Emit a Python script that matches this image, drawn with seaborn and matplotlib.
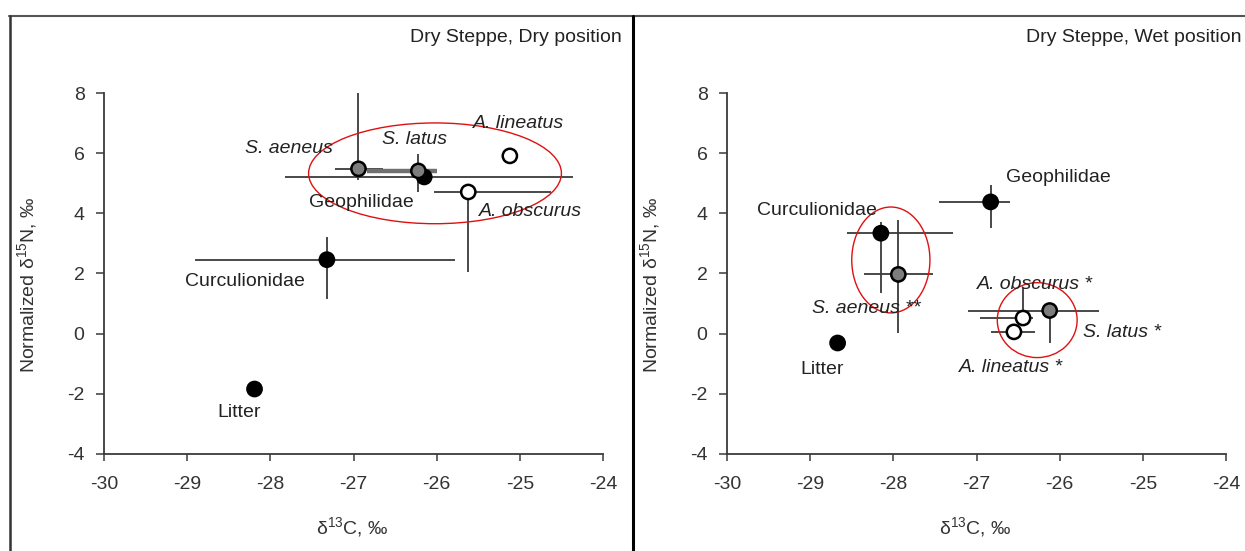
import matplotlib
matplotlib.use("Agg")
import matplotlib.pyplot as plt
from matplotlib.patches import Ellipse
from matplotlib.lines import Line2D
import numpy as np
import pandas as pd
import seaborn as sns

# ---- data -----------------------------------------------------------------
taxa = ["Litter", "Curculionidae", "Geophilidae", "S. aeneus", "S. latus",
        "A. lineatus", "A. obscurus"]
group = ["black", "black", "black", "gray", "gray", "open", "open"]

# Dry Steppe, dry position
dry_c13 = [-28.19, -27.32, -26.15, -26.94, -26.22, -25.12, -25.62]
dry_n15 = [-1.84, 2.46, 5.21, 5.48, 5.41, 5.91, 4.71]
dry_xerr_lo = [0, 1.59, 1.67, 0.28, 0.62, 0, 0.41]
dry_xerr_hi = [0, 1.54, 1.79, 0.30, 0.22, 0, 1.00]
dry_yerr_lo = [0, 1.30, 0, 0.37, 0.70, 0, 2.66]
dry_yerr_hi = [0, 0.76, 0, 2.52, 0.55, 0, 0]

# Dry Steppe, wet position
wet_c13 = [-28.67, -28.15, -26.83, -27.94, -26.12, -26.55, -26.44]
wet_n15 = [-0.31, 3.34, 4.38, 1.97, 0.77, 0.06, 0.52]
wet_xerr_lo = [0, 0.41, 0.62, 0.41, 0.98, 0.28, 0.52]
wet_xerr_hi = [0, 0.87, 0.23, 0.42, 0.59, 0.25, 0.12]
wet_yerr_lo = [0, 1.98, 0.87, 1.94, 1.08, 0, 0]
wet_yerr_hi = [0, 0.37, 0.56, 1.81, 0, 0, 1.00]

# point labels (text, x, y, italic)
dry_labels = [("Litter", -28.37, -2.63, False),
              ("Curculionidae", -28.30, 1.72, False),
              ("Geophilidae", -26.90, 4.35, False),
              ("S. aeneus", -27.78, 6.17, True),
              ("S. latus", -26.27, 6.47, True),
              ("A. lineatus", -25.02, 7.00, True),
              ("A. obscurus", -24.87, 4.05, True)]
wet_labels = [("Litter", -28.86, -1.20, False),
              ("Curculionidae", -28.92, 4.08, False),
              ("Geophilidae", -26.02, 5.18, False),
              ("S. aeneus **", -28.33, 0.82, True),
              ("S. latus *", -25.25, 0.03, True),
              ("A. lineatus *", -26.58, -1.14, True),
              ("A. obscurus *", -26.30, 1.65, True)]

# grouping ellipses: (centre x, centre y, width, height)
dry_groups = [(-26.02, 5.33, 3.04, 3.35)]
wet_groups = [(-28.03, 2.45, 0.94, 3.52), (-26.27, 0.45, 0.96, 2.49)]

x_ticks = [-30, -29, -28, -27, -26, -25, -24]
y_ticks = [-4, -2, 0, 2, 4, 6, 8]

# ---- style ----------------------------------------------------------------
sns.set_theme(style="ticks")
plt.rcParams["font.family"] = ["Liberation Sans", "DejaVu Sans"]
plt.rcParams["mathtext.fontset"] = "custom"
plt.rcParams["mathtext.rm"] = "Liberation Sans"
plt.rcParams["mathtext.it"] = "Liberation Sans:italic"

INK = "#3a3a3a"
fills = {"black": "#000000", "gray": "#7d7d7d", "open": "#ffffff"}

fig = plt.figure(figsize=(12.45, 5.51), dpi=100)
fig.patch.set_facecolor("white")

ax_w = 499 / 1245
ax_h = 361 / 551
ax_b = 1 - 454 / 551
ax_dry = fig.add_axes([104 / 1245, ax_b, ax_w, ax_h])
ax_wet = fig.add_axes([727 / 1245, ax_b, ax_w, ax_h])


def draw_panel(ax, cx, ny, xlo, xhi, ylo, yhi, labels, groups, thick_bar=None):
    df = pd.DataFrame({"taxon": taxa, "c13": cx, "n15": ny, "group": group})
    for i, t in enumerate(taxa):
        lw = 3.2 if t == thick_bar else 1.3
        col = "#707070" if t == thick_bar else INK
        if xlo[i] or xhi[i]:
            ax.errorbar(cx[i], ny[i], xerr=[[xlo[i]], [xhi[i]]], fmt="none",
                        ecolor=col, elinewidth=lw, capsize=0, zorder=2)
        if ylo[i] or yhi[i]:
            ax.errorbar(cx[i], ny[i], yerr=[[ylo[i]], [yhi[i]]], fmt="none",
                        ecolor=INK, elinewidth=1.3, capsize=0, zorder=2)
    sns.scatterplot(data=df, x="c13", y="n15", hue="group", palette=fills,
                    edgecolor="black", linewidth=1.8, s=105, legend=False,
                    ax=ax, zorder=3)
    for (ex, ey, ew, eh) in groups:
        ax.add_patch(Ellipse((ex, ey), ew, eh, fill=False, edgecolor="#e01010",
                             linewidth=1.0, zorder=4))
    for (txt, tx, ty, it) in labels:
        ax.text(tx, ty, txt, ha="center", va="center", fontsize=14,
                style="italic" if it else "normal", color="#222222", zorder=5)

    ax.set_xlim(-30, -24)
    ax.set_ylim(-4, 8)
    ax.set_xticks(x_ticks)
    ax.set_yticks(y_ticks)
    ax.set_xticklabels([str(v) for v in x_ticks])
    ax.set_yticklabels([str(v) for v in y_ticks])
    ax.tick_params(axis="x", direction="out", length=5, width=1.1, color=INK,
                   labelsize=14, labelcolor="#333333", pad=11)
    ax.tick_params(axis="y", direction="out", length=6, width=1.1, color=INK,
                   labelsize=14, labelcolor="#333333", pad=8)
    for side in ("top", "right"):
        ax.spines[side].set_visible(False)
    for side in ("left", "bottom"):
        ax.spines[side].set_color(INK)
        ax.spines[side].set_linewidth(1.3)
    ax.set_facecolor("white")
    ax.set_xlabel(r"δ$^{13}$C, ‰", fontsize=14, color="#333333")
    ax.set_ylabel(r"Normalized δ$^{15}$N, ‰", fontsize=14, color="#333333")
    ax.xaxis.set_label_coords(0.497, -0.17)
    ax.yaxis.set_label_coords(-0.13, 0.47)


draw_panel(ax_dry, dry_c13, dry_n15, dry_xerr_lo, dry_xerr_hi, dry_yerr_lo,
           dry_yerr_hi, dry_labels, dry_groups, thick_bar="S. latus")
draw_panel(ax_wet, wet_c13, wet_n15, wet_xerr_lo, wet_xerr_hi, wet_yerr_lo,
           wet_yerr_hi, wet_labels, wet_groups)

# panel frames
top = 1 - 16 / 551
fig.add_artist(Line2D([9 / 1245, 1.0], [top, top], transform=fig.transFigure,
                      color="#555555", linewidth=1.5))
fig.add_artist(Line2D([10 / 1245, 10 / 1245], [0, top], transform=fig.transFigure,
                      color="#333333", linewidth=1.8))
fig.add_artist(Line2D([633 / 1245, 633 / 1245], [0, top], transform=fig.transFigure,
                      color="#000000", linewidth=2.2))

fig.text(622 / 1245, 1 - 37 / 551, "Dry Steppe, Dry position", ha="right",
         va="center", fontsize=14, color="#222222")
fig.text(1242 / 1245, 1 - 37 / 551, "Dry Steppe, Wet position", ha="right",
         va="center", fontsize=14, color="#222222")

fig.savefig("out.png", dpi=100, facecolor="white")
